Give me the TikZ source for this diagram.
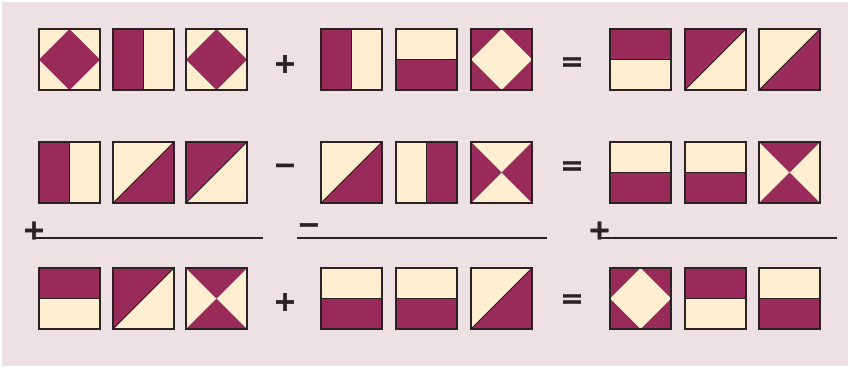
\documentclass[tikz,border=0pt]{standalone}
\usepackage{fontspec}
\setmainfont{Liberation Sans}
\newfontfamily\opfont[BoldFeatures={FakeBold=1.5}]{DejaVu Sans}
\definecolor{bgpink}{HTML}{EDE1E3}
\definecolor{plum}{HTML}{982B59}
\definecolor{cream}{HTML}{FFEECF}
\definecolor{ink}{HTML}{2A2224}
\tikzset{
  x=1pt,y=-1pt,
  edge/.style={draw=ink,line width=1.1pt},
  split/.style={draw=ink,line width=0.9pt},
  op/.style={font=\opfont\bfseries\fontsize{28}{28}\selectfont,text=ink,inner sep=0pt},
  rule/.style={draw=ink,line width=2.4pt},
  tile diamondM/.pic={\fill[cream] (0,0) rectangle (61,61);
    \fill[plum] (30.5,0) -- (61,30.5) -- (30.5,61) -- (0,30.5) -- cycle;
    \draw[edge] (0,0) rectangle (61,61);},
  tile diamondC/.pic={\fill[plum] (0,0) rectangle (61,61);
    \fill[cream] (30.5,0) -- (61,30.5) -- (30.5,61) -- (0,30.5) -- cycle;
    \draw[edge] (0,0) rectangle (61,61);},
  tile vML/.pic={\fill[cream] (0,0) rectangle (61,61);
    \fill[plum] (0,0) rectangle (30.5,61);
    \draw[split] (30.5,0) -- (30.5,61);
    \draw[edge] (0,0) rectangle (61,61);},
  tile vMR/.pic={\fill[cream] (0,0) rectangle (61,61);
    \fill[plum] (30.5,0) rectangle (61,61);
    \draw[split] (30.5,0) -- (30.5,61);
    \draw[edge] (0,0) rectangle (61,61);},
  tile hMT/.pic={\fill[cream] (0,0) rectangle (61,61);
    \fill[plum] (0,0) rectangle (61,30.5);
    \draw[split] (0,30.5) -- (61,30.5);
    \draw[edge] (0,0) rectangle (61,61);},
  tile hMB/.pic={\fill[cream] (0,0) rectangle (61,61);
    \fill[plum] (0,30.5) rectangle (61,61);
    \draw[split] (0,30.5) -- (61,30.5);
    \draw[edge] (0,0) rectangle (61,61);},
  tile dUL/.pic={\fill[cream] (0,0) rectangle (61,61);
    \fill[plum] (0,0) -- (61,0) -- (0,61) -- cycle;
    \draw[split] (0,61) -- (61,0);
    \draw[edge] (0,0) rectangle (61,61);},
  tile dLR/.pic={\fill[cream] (0,0) rectangle (61,61);
    \fill[plum] (61,0) -- (61,61) -- (0,61) -- cycle;
    \draw[split] (0,61) -- (61,0);
    \draw[edge] (0,0) rectangle (61,61);},
  tile xLR/.pic={\fill[cream] (0,0) rectangle (61,61);
    \fill[plum] (0,0) -- (30.5,30.5) -- (0,61) -- cycle;
    \fill[plum] (61,0) -- (30.5,30.5) -- (61,61) -- cycle;
    \draw[edge] (0,0) rectangle (61,61);},
  tile xTB/.pic={\fill[cream] (0,0) rectangle (61,61);
    \fill[plum] (0,0) -- (30.5,30.5) -- (61,0) -- cycle;
    \fill[plum] (0,61) -- (30.5,30.5) -- (61,61) -- cycle;
    \draw[edge] (0,0) rectangle (61,61);},
}
\begin{document}
\begin{tikzpicture}
\useasboundingbox (0,0) rectangle (850,368);
\fill[white] (0,0) rectangle (850,368);
\fill[bgpink] (2,2) rectangle (848,366);
% row 1
\pic (r1a1) at (39,29) {tile diamondM};
\pic (r1a2) at (113,29) {tile vML};
\pic (r1a3) at (186,29) {tile diamondM};
\pic (r1b1) at (321,29) {tile vML};
\pic (r1b2) at (396,29) {tile hMB};
\pic (r1b3) at (471,29) {tile diamondC};
\pic (r1c1) at (610,29) {tile hMT};
\pic (r1c2) at (685,29) {tile dUL};
\pic (r1c3) at (759,29) {tile dLR};
\node[op] (r1plus) at (285,64) {+};
\node[op] (r1eq) at (572,64) {=};
% row 2
\pic (r2a1) at (39,142) {tile vML};
\pic (r2a2) at (113,142) {tile dLR};
\pic (r2a3) at (186,142) {tile dUL};
\pic (r2b1) at (321,142) {tile dLR};
\pic (r2b2) at (396,142) {tile vMR};
\pic (r2b3) at (471,142) {tile xLR};
\pic (r2c1) at (610,142) {tile hMB};
\pic (r2c2) at (685,142) {tile hMB};
\pic (r2c3) at (759,142) {tile xTB};
\node[op] (r2minus) at (285,169) {−};
\node[op] (r2eq) at (572,168) {=};
% rules
\node[op] (l1op) at (34,230.5) {+};
\coordinate (l1s) at (33.5,238);
\coordinate (l1e) at (263,238);
\draw[rule] (l1s) -- (l1e);
\node[op,anchor=west] (l2op) at (297,228.5) {−};
\coordinate (l2s) at (297,238);
\coordinate (l2e) at (547,238);
\draw[rule] (l2s) -- (l2e);
\node[op] (l3op) at (599.5,230.5) {+};
\coordinate (l3s) at (599,238);
\coordinate (l3e) at (837,238);
\draw[rule] (l3s) -- (l3e);
% row 3
\pic (r3a1) at (39,268) {tile hMT};
\pic (r3a2) at (113,268) {tile dUL};
\pic (r3a3) at (186,268) {tile xTB};
\pic (r3b1) at (321,268) {tile hMB};
\pic (r3b2) at (396,268) {tile hMB};
\pic (r3b3) at (471,268) {tile dLR};
\pic (r3c1) at (610,268) {tile diamondC};
\pic (r3c2) at (685,268) {tile hMT};
\pic (r3c3) at (759,268) {tile hMB};
\node[op] (r3plus) at (285,302) {+};
\node[op] (r3eq) at (572,301) {=};
\end{tikzpicture}
\end{document}
